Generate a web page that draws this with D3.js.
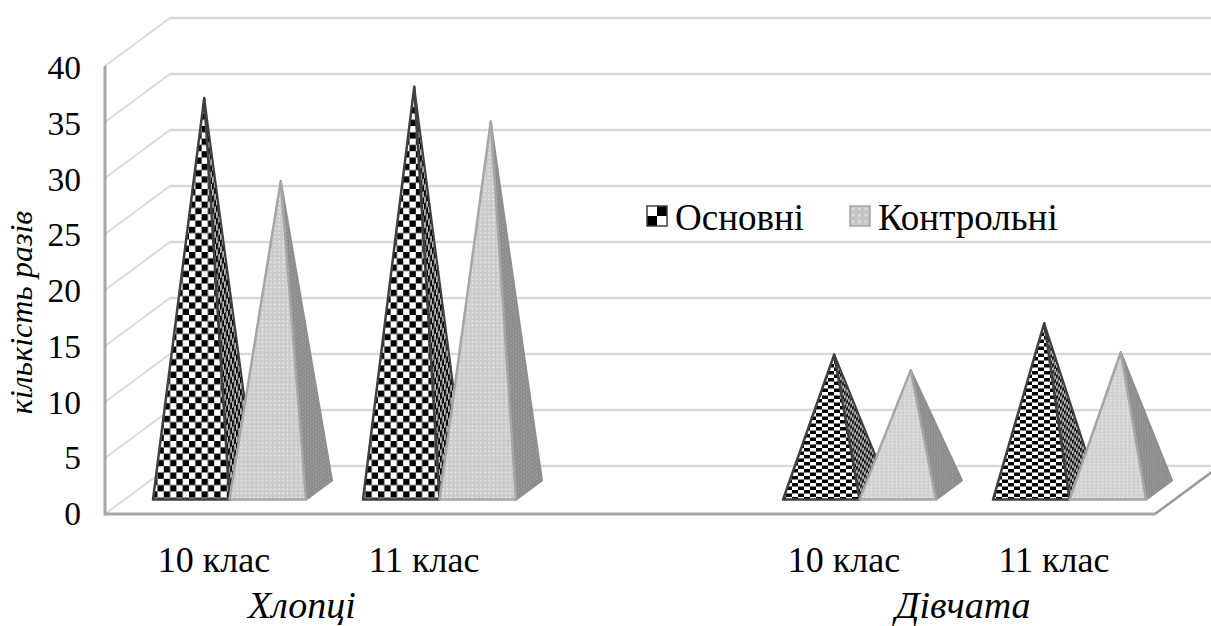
<!DOCTYPE html>
<html>
<head>
<meta charset="utf-8">
<script src="https://cdn.jsdelivr.net/npm/d3@7"></script>
<style>
  html, body { margin: 0; padding: 0; background: #fff; }
  svg { display: block; }
  text { font-family: "Liberation Serif", serif; fill: #000; }
</style>
</head>
<body>
<div id="chart"></div>
<script>
'use strict';

var groupLabels = ['Хлопці', 'Дівчата'];
var classLabels = ['10 клас', '11 клас', '', '10 клас', '11 клас'];
var slots = ['b10', 'b11', 'gap', 'g10', 'g11'];
var seriesNames = ['Основні', 'Контрольні'];
var mainValues = [35, 36, null, 12.1, 14.9];
var controlValues = [27.6, 32.9, null, 10.7, 12.3];
var yTicks = [0, 5, 10, 15, 20, 25, 30, 35, 40];
var yLabel = 'кількість разів';

var width = 1211, height = 626;
var depthX = 65, depthY = 48;

var x = d3.scaleBand().domain(slots).range([105, 1155]);
var y = d3.scaleLinear().domain([0, 40]).range([514, 66]);
var barW = 76.5;

// floor depth, 0 = front edge, 1 = back wall
function project(px, py, z) {
  return [px + z * depthX, py - z * depthY];
}

var svg = d3.select('#chart').append('svg')
  .attr('width', width)
  .attr('height', height);
var defs = svg.append('defs');

function addPattern(id, cellW, cellH, matrix, draw) {
  var p = defs.append('pattern')
    .attr('id', id)
    .attr('patternUnits', 'userSpaceOnUse')
    .attr('width', cellW)
    .attr('height', cellH);
  if (matrix) p.attr('patternTransform', 'matrix(' + matrix.join(' ') + ')');
  draw(p);
}

function checker(id, w, h, matrix, dark, light) {
  addPattern(id, w * 2, h * 2, matrix, function(p) {
    p.append('rect').attr('width', w * 2).attr('height', h * 2).attr('fill', light);
    p.append('rect').attr('width', w).attr('height', h).attr('fill', dark);
    p.append('rect').attr('x', w).attr('y', h).attr('width', w).attr('height', h).attr('fill', dark);
  });
}

function dots(id, w, h, matrix, bg, dot) {
  addPattern(id, w, h, matrix, function(p) {
    p.append('rect').attr('width', w).attr('height', h).attr('fill', bg);
    p.append('rect').attr('x', w * 0.3).attr('y', h * 0.3)
      .attr('width', w * 0.35).attr('height', h * 0.35).attr('fill', dot);
  });
}

// side faces recede up and to the right, so the cells get skewed with them
var skew = -depthY / depthX;
checker('mainFrontTall', 6.3, 6.3, null, '#000', '#fff');
checker('mainSideTall', 2, 6.3, [1, skew, 0, 1, 0, 0], '#000', '#b4b4b4');
checker('mainFrontShort', 6, 3.5, null, '#000', '#fff');
checker('mainSideShort', 2, 3.5, [1, skew, 0, 1, 0, 0], '#111', '#b4b4b4');
dots('controlFrontTall', 4.2, 4.2, null, '#cbcbcb', '#f2f2f2');
dots('controlSideTall', 2.6, 4.2, [1, skew, 0, 1, 0, 0], '#8c8c8c', '#b0b0b0');
dots('controlFrontShort', 4.2, 3.3, null, '#d0d0d0', '#f4f4f4');
dots('controlSideShort', 2.6, 3.3, [1, skew, 0, 1, 0, 0], '#8c8c8c', '#b0b0b0');
checker('legendMain', 10, 10, null, '#fff', '#000');
dots('legendControl', 6.4, 6.4, null, '#c4c4c4', '#e8e8e8');

// walls
var gridColor = '#d9d9d9', axisColor = '#a6a6a6';
var walls = svg.append('g');
yTicks.forEach(function(t) {
  var back = project(105, y(t), 1);
  walls.append('line')
    .attr('x1', back[0]).attr('y1', back[1])
    .attr('x2', 1155 + depthX).attr('y2', back[1])
    .attr('stroke', gridColor).attr('stroke-width', 2.5);
  walls.append('line')
    .attr('x1', 105).attr('y1', y(t))
    .attr('x2', back[0]).attr('y2', back[1])
    .attr('stroke', gridColor).attr('stroke-width', 2);
});

// floor edge and value axis
var frontRight = project(1155, y(0), 1);
walls.append('line').attr('x1', 1155).attr('y1', y(0))
  .attr('x2', frontRight[0]).attr('y2', frontRight[1])
  .attr('stroke', '#9a9a9a').attr('stroke-width', 2.5);
walls.append('line').attr('x1', 105).attr('y1', y(0))
  .attr('x2', 1155).attr('y2', y(0))
  .attr('stroke', axisColor).attr('stroke-width', 3);
walls.append('line').attr('x1', 105).attr('y1', y(40))
  .attr('x2', 105).attr('y2', y(0) + 1.5)
  .attr('stroke', axisColor).attr('stroke-width', 3);

var zFront = 0.3, zBack = 0.7, zMid = 0.5;

function points(a) {
  return a.map(function(p) { return p.join(','); }).join(' ');
}

function drawPyramid(g, slot, value, offset, name, stroke) {
  var left = x(slot) + x.bandwidth() / 2 + offset * barW;
  var right = left + barW;
  var apexBase = project((left + right) / 2, y(0), zMid);
  var apex = [apexBase[0], apexBase[1] - (y(0) - y(value))];
  var bl = project(left, y(0), zFront);
  var br = project(right, y(0), zFront);
  var bb = project(right, y(0), zBack);
  var size = value > 20 ? 'Tall' : 'Short';

  g.append('polygon').attr('points', points([br, bb, apex]))
    .attr('fill', 'url(#' + name + 'Side' + size + ')')
    .attr('stroke', stroke === '#404040' ? '#404040' : '#8f8f8f')
    .attr('stroke-width', 2).attr('stroke-linejoin', 'round');
  g.append('polygon').attr('points', points([bl, br, apex]))
    .attr('fill', 'url(#' + name + 'Front' + size + ')')
    .attr('stroke', stroke)
    .attr('stroke-width', 2.5).attr('stroke-linejoin', 'round');
}

var bars = svg.append('g');
slots.forEach(function(slot, i) {
  if (mainValues[i] === null) return;
  drawPyramid(bars, slot, mainValues[i], -1, 'main', '#404040');
  drawPyramid(bars, slot, controlValues[i], 0, 'control', '#a6a6a6');
});

// value labels, their spacing is a touch tighter than the grid
var yAxis = svg.append('g');
yTicks.forEach(function(t) {
  yAxis.append('text')
    .attr('x', 81).attr('y', y(t) + 11 + t / 20)
    .attr('text-anchor', 'end')
    .attr('font-size', 33.5)
    .text(t);
});

// category labels, two rows
slots.forEach(function(slot, i) {
  if (!classLabels[i]) return;
  svg.append('text')
    .attr('x', x(slot) + x.bandwidth() / 2 + 4)
    .attr('y', 572)
    .attr('text-anchor', 'middle')
    .attr('font-size', 36)
    .text(classLabels[i]);
});
var groupShift = [-13, 18];
[['b10', 'b11'], ['g10', 'g11']].forEach(function(pair, i) {
  var cx = (x(pair[0]) + x(pair[1]) + x.bandwidth()) / 2;
  svg.append('text')
    .attr('x', cx + groupShift[i])
    .attr('y', 617.5)
    .attr('text-anchor', 'middle')
    .attr('font-size', 38)
    .attr('font-style', 'italic')
    .text(groupLabels[i]);
});

svg.append('text')
  .attr('transform', 'translate(32,312.5) rotate(-90)')
  .attr('text-anchor', 'middle')
  .attr('font-size', 32)
  .attr('font-style', 'italic')
  .text(yLabel);

// legend
var legendAt = [647, 850];
seriesNames.forEach(function(name, i) {
  var g = svg.append('g').attr('transform', 'translate(' + legendAt[i] + ',206)');
  g.append('rect').attr('width', 20).attr('height', 20)
    .attr('fill', i === 0 ? 'url(#legendMain)' : 'url(#legendControl)')
    .attr('stroke', i === 0 ? '#404040' : '#a6a6a6')
    .attr('stroke-width', 1.5);
  g.append('text').attr('x', 28).attr('y', 24).attr('font-size', 37).text(name);
});
</script>
</body>
</html>
